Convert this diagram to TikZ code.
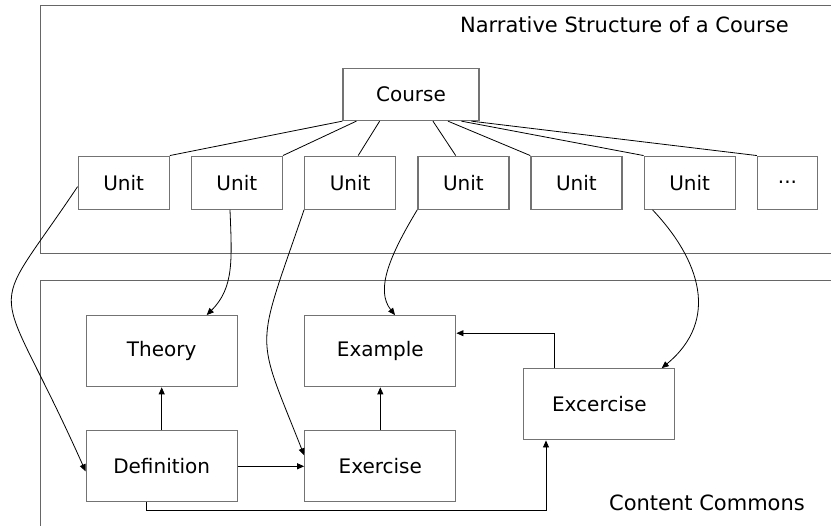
\documentclass[tikz,border=0pt]{standalone}
\usepackage{fontspec}
\setmainfont{DejaVu Sans}
\usetikzlibrary{arrows.meta,calc}
\begin{document}
\begin{tikzpicture}[x=1pt,y=-1pt,
  box/.style={draw=black!55,line width=1.3pt,inner sep=0pt,font=\fontsize{20}{24}\selectfont},
  unitbox/.style={box,minimum width=91pt,minimum height=53pt},
  cbox/.style={box,minimum width=151pt,minimum height=71pt},
  frame/.style={draw=black!60,line width=1.2pt},
  tree/.style={draw=black,line width=0.8pt},
  conn/.style={draw=black,line width=0.8pt,-{Triangle[length=7pt,width=6pt]}},
  lbl/.style={inner sep=0pt,font=\fontsize{21}{25}\selectfont}]
\useasboundingbox (0,0) rectangle (831,526);
\clip (0,0) rectangle (831,526);
% frames
\draw[frame] (840,5.7) -- (40.7,5.7) -- (40.7,253.3) -- (840,253.3);
\draw[frame] (840,280.7) -- (40.7,280.7) -- (40.7,540);
\node[lbl] (title) at (624.4,25) {Narrative Structure of a Course};
\node[lbl] (cc) at (707,502.7) {Content Commons};
% course tree
\node[box,minimum width=136pt,minimum height=52pt] (course) at (411,94.5) {Course};
\node[unitbox] (u1) at (123.7,182.7) {Unit};
\node[unitbox] (u2) at (236.8,182.7) {Unit};
\node[unitbox] (u3) at (350.2,182.7) {Unit};
\node[unitbox] (u4) at (463.4,182.7) {Unit};
\node[unitbox] (u5) at (576.4,182.7) {Unit};
\node[unitbox] (u6) at (689.7,182.7) {Unit};
\node[box,minimum width=60pt,minimum height=53pt] (u7) at (787.5,182.7) {...};
\draw[tree] (course.south west) -- (u1.north east);
\draw[tree] ($(course.south west)+(14,0)$) -- (u2.north east);
\draw[tree] ($(course.south west)+(37.3,0)$) -- ($(u3.north)+(8,0)$);
\draw[tree] ($(course.south west)+(90.6,0)$) -- ($(u4.north)+(-7.7,0)$);
\draw[tree] ($(course.south west)+(105.6,0)$) -- (u5.north west);
\draw[tree] ($(course.south west)+(119,0)$) -- (u6.north west);
\draw[tree] ($(course.south west)+(129,0)$) -- (u7.north west);
% content boxes
\node[cbox] (theory) at (161.7,351.2) {Theory};
\node[cbox] (example) at (380.3,351.2) {Example};
\node[cbox] (def) at (161.7,466.3) {Definition};
\node[cbox] (exer) at (380.3,466.3) {Exercise};
\node[cbox] (exc) at (599.3,404.3) {Excercise};
\draw[conn] (def) -- (theory);
\draw[conn] (exer) -- (example);
\draw[conn] (def) -- (exer);
\draw[conn] ($(def.south)+(-15,0)$) |- (546,510) -- ($(exc.south)+(-53.3,0)$);
\draw[conn] ($(exc.north)+(-45.3,0)$) |- ($(example.east)+(0,-18)$);
% curved links
\draw[conn] ($(u1.west)+(0,4)$) .. controls (-17,328) and (-6,266) .. ($(def.west)+(0,5)$);
\draw[conn] ($(u2.south)+(-6.8,0)$) .. controls (232,260) and (234,288) .. ($(theory.north)+(45,0)$);
\draw[conn] (u3.south west) .. controls (254.7,354) and (254.7,330) .. ($(exer.west)+(0,-11)$);
\draw[conn] (u4.south west) .. controls (390,255) and (375,290) .. ($(example.north)+(14.7,0)$);
\draw[conn] ($(u6.south west)+(9,0)$) .. controls (700,260) and (720,320) .. ($(exc.north)+(62.4,0)$);
\end{tikzpicture}
\end{document}
